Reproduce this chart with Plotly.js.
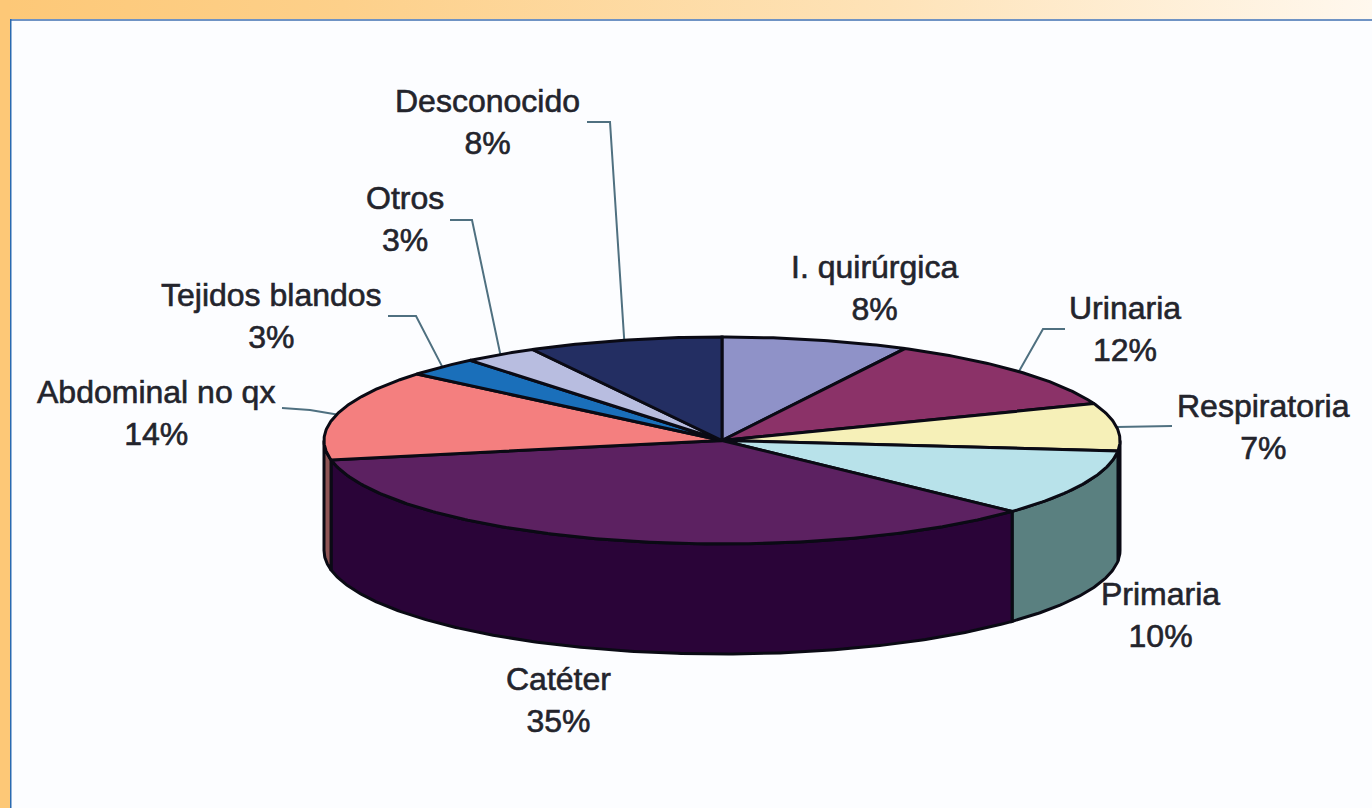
<!DOCTYPE html>
<html>
<head>
<meta charset="utf-8">
<script src="https://cdn.plot.ly/plotly-3.0.1.min.js"></script>
<style>
html,body{margin:0;padding:0;width:1372px;height:808px;overflow:hidden;
background:linear-gradient(to right,#fdc877 0%,#fdd08a 25%,#fee3b8 65%,#fff8ee 100%);}
#chart{width:1372px;height:808px;}
.annotation-text{stroke:#23242c;stroke-width:0.6px;}
</style>
</head>
<body>
<div id="chart"></div>
<script>
// Data (unrounded shares estimated from the slice boundaries; labels show them rounded)
const categories = ["I. quirúrgica","Urinaria","Respiratoria","Primaria","Catéter","Abdominal no qx","Tejidos blandos","Otros","Desconocido"];
const shares = [7.6,11.6,7.4,10.4,35,14.1,3,3,7.9];
const topColors = ["#8f92c8","#8b3268","#f6f0b8","#b8e2ea","#5c2161","#f47f7f","#1a6fba","#b8bde0","#232e62"];
const sideColors = ["#5f6186","#5c2146","#7f7a5c","#5a8080","#2a0438","#8f5555","#0e4a7c","#7a7e95","#171f42"];

// Drawing geometry (on hidden pixel-sized axes)
const cx = 722, cy = 440.5, rx = 398, ry = 103.5, depth = 110;
const labelCentres = [[874,288],[1125,329],[1263,427],[1160,615],[558,700],[156,413],[271,316],[405,219],[487,122]];
const leaderBends = [null,[[1043,329],[1065,329]],[[1172,426]],null,null,[[310,410],[282,408]],[[416,316],[388,316]],[[472,220],[450,220]],[[610,122],[587,122]]];

const ink = "#0a0a14", leaderColor = "#4f7080";
const px = t => cx + rx*Math.sin(t);
const py = t => cy - ry*Math.cos(t);
const total = shares.reduce((a,b)=>a+b,0);
const arc = (a,b) => { const n = Math.max(2,Math.ceil(Math.abs(b-a)/0.01)); const o=[]; for(let i=0;i<=n;i++) o.push(a+(b-a)*i/n); return o; };

let cum = 0;
const slices = shares.map(v => { const a = cum/total*2*Math.PI; cum += v; return {a, b: cum/total*2*Math.PI}; });

const traces = [];
// leader lines
slices.forEach((s,i) => {
  if(!leaderBends[i]) return;
  const m = (s.a+s.b)/2;
  traces.push({type:"scatter",mode:"lines",x:[px(m),...leaderBends[i].map(p=>p[0])],y:[py(m),...leaderBends[i].map(p=>p[1])],
    line:{color:leaderColor,width:2},hoverinfo:"skip",showlegend:false});
});
// side walls, only the front half of the disc is visible
slices.forEach((s,i) => {
  const a = Math.max(s.a,Math.PI/2), b = Math.min(s.b,1.5*Math.PI);
  if(b<=a) return;
  const t = arc(a,b);
  traces.push({type:"scatter",mode:"lines",fill:"toself",fillcolor:sideColors[i],
    x:[...t.map(px),...t.slice().reverse().map(px),px(a)],
    y:[...t.map(py),...t.slice().reverse().map(v=>py(v)+depth),py(a)],
    line:{color:ink,width:3},hoverinfo:"skip",showlegend:false});
});
// top faces
slices.forEach((s,i) => {
  const t = arc(s.a,s.b);
  traces.push({type:"scatter",mode:"lines",fill:"toself",fillcolor:topColors[i],
    x:[cx,...t.map(px),cx],y:[cy,...t.map(py),cy],
    line:{color:ink,width:3},hoverinfo:"skip",showlegend:false});
});

const annotations = categories.map((c,i) => ({
  x:labelCentres[i][0],y:labelCentres[i][1],xref:"x",yref:"y",text:c+"<br>"+Math.round(shares[i])+"%",
  showarrow:false,align:"center",xanchor:"center",yanchor:"middle",
  font:{family:"Liberation Sans, Arial, sans-serif",size:32,color:"#23242c"}
}));

const hidden = r => ({range:r,visible:false,fixedrange:true,showgrid:false,zeroline:false});
Plotly.newPlot("chart",traces,{
  width:1372,height:808,margin:{l:0,r:0,t:0,b:0},
  paper_bgcolor:"rgba(0,0,0,0)",plot_bgcolor:"rgba(0,0,0,0)",
  xaxis:hidden([0,1372]),yaxis:hidden([808,0]),showlegend:false,
  shapes:[
    {type:"rect",layer:"below",xref:"x",yref:"y",x0:0,x1:10,y0:0,y1:808,fillcolor:"#fdc877",line:{width:0}},
    {type:"rect",layer:"below",xref:"x",yref:"y",x0:10,x1:1372,y0:20,y1:808,fillcolor:"#fcfdff",line:{width:0}},
    {type:"rect",layer:"below",xref:"x",yref:"y",x0:10,x1:1372,y0:19,y1:21,fillcolor:"#6f93c4",line:{width:0}},
    {type:"rect",layer:"below",xref:"x",yref:"y",x0:10,x1:11.5,y0:19,y1:808,fillcolor:"#2a6ab0",line:{width:0}}
  ],
  annotations
},{displayModeBar:false,staticPlot:true});
</script>
</body>
</html>
